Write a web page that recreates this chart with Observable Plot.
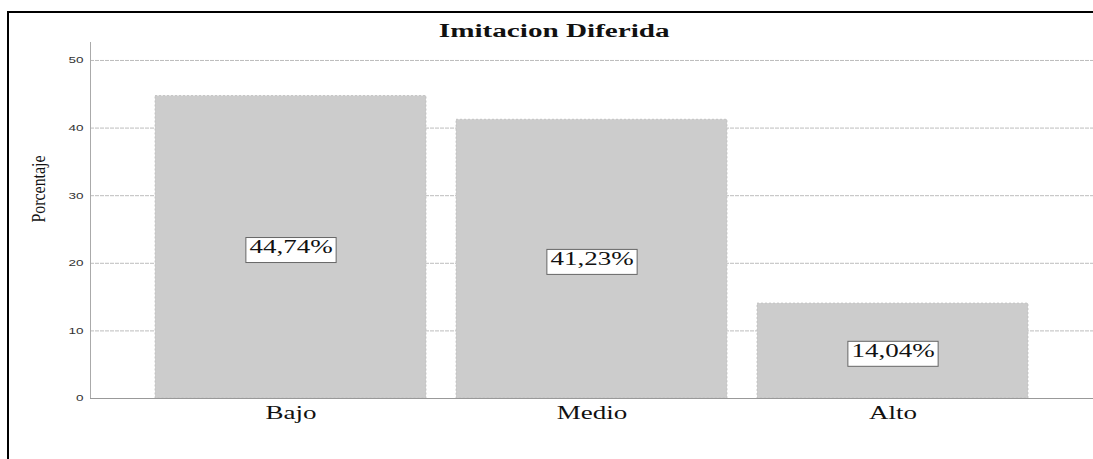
<!DOCTYPE html>
<html><head><meta charset="utf-8">
<script src="https://cdn.jsdelivr.net/npm/d3@7"></script>
<script src="https://cdn.jsdelivr.net/npm/@observablehq/plot@0.6"></script>
<style>
html,body{margin:0;padding:0;background:#fff}
body{width:1093px;height:459px;overflow:hidden;position:relative}
#chart{position:absolute;left:0;top:0}
#frame{position:absolute;left:7px;top:11px;right:-5px;bottom:-5px;border-top:2px solid #000;border-left:2px solid #000;pointer-events:none}
#title{position:absolute;left:454px;width:200px;top:21px;line-height:20px;text-align:center;font:bold 18px "Liberation Serif";color:#111;white-space:nowrap}
#title span{display:inline-block;transform:scaleX(1.62)}
</style></head><body>
<div id="chart"></div>
<div id="frame"></div>
<div id="title"><span>Imitacion Diferida</span></div>
<script>
const categories = ["Bajo", "Medio", "Alto"];
const percentages = [44.74, 41.23, 14.04];
const pctLabels = ["44,74%", "41,23%", "14,04%"];
const yTicks = [0, 10, 20, 30, 40, 50];
const yTitle = "Porcentaje";

const data = categories.map((c, i) => ({categoria: c, porcentaje: percentages[i], etiqueta: pctLabels[i]}));

const plot = Plot.plot({
  width: 1093,
  height: 459,
  marginLeft: 90,
  marginRight: 0,
  marginTop: 42,
  marginBottom: 61,
  style: {background: "transparent", fontFamily: "Liberation Serif", color: "#111"},
  x: {domain: categories, paddingInner: 0.1, paddingOuter: 0.216, label: null, axis: null},
  y: {domain: [0, 52.66], label: null, axis: null},
  marks: [
    Plot.gridY(yTicks, {stroke: "#bdbdbd", strokeOpacity: 1, strokeDasharray: "4,1"}),
    Plot.frame({anchor: "left", stroke: "#aaa", strokeDasharray: "3,1"}),
    Plot.barY(data, {x: "categoria", y: "porcentaje", fill: "#cccccc", stroke: "#bdbdbd", strokeDasharray: "2,2", strokeWidth: 0.8}),
    Plot.ruleY([0], {stroke: "#999"}),
    Plot.axisY(yTicks, {tickSize: 0, tickPadding: 7, fontSize: 9, fontFamily: "Liberation Sans", fill: "#333", label: null}),
    Plot.axisX({tickSize: 0, tickPadding: 8, fontSize: 18, fontFamily: "Liberation Serif", fill: "#111", label: null}),
    Plot.text(data, {x: "categoria", y: d => d.porcentaje / 2, text: "etiqueta", fontSize: 18, fontFamily: "Liberation Serif", fill: "#111"}),
    Plot.text([yTitle], {frameAnchor: "left", rotate: -90, dx: -51, dy: 2, fontSize: 18, fontFamily: "Liberation Serif", fill: "#111"})
  ]
});
document.getElementById("chart").append(plot);

const tickStrings = yTicks.map(String);
const svg = d3.select(plot);
svg.selectAll("text").each(function() {
  const s = this.textContent.trim();
  if (pctLabels.includes(s) || categories.includes(s) || tickStrings.includes(s)) {
    const w = this.getComputedTextLength();
    this.setAttribute("textLength", w * 1.5);
    this.setAttribute("lengthAdjust", "spacingAndGlyphs");
  } else if (s === yTitle) {
    this.setAttribute("textLength", 67);
    this.setAttribute("lengthAdjust", "spacingAndGlyphs");
  }
});
svg.selectAll("text").filter(function() { return pctLabels.includes(this.textContent.trim()); }).each(function() {
  const b = this.getBBox();
  const r = document.createElementNS("http://www.w3.org/2000/svg", "rect");
  r.setAttribute("x", b.x - 3.5);
  r.setAttribute("y", b.y + 0.5);
  r.setAttribute("width", b.width + 7);
  r.setAttribute("height", b.height + 5);
  r.setAttribute("fill", "#fff");
  r.setAttribute("stroke", "#666");
  r.setAttribute("stroke-width", "1");
  const t = this.getAttribute("transform");
  if (t) r.setAttribute("transform", t);
  this.parentNode.insertBefore(r, this);
});
</script>
</body></html>
